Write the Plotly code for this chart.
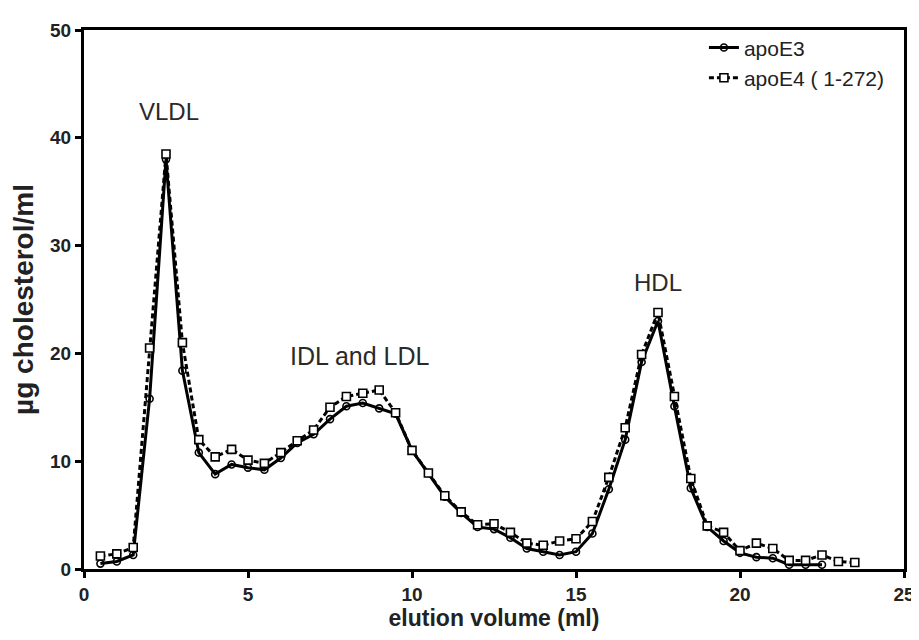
import plotly.graph_objects as go

volume_e4 = [0.5, 1.0, 1.5, 2.0, 2.5, 3.0, 3.5, 4.0, 4.5, 5.0, 5.5, 6.0, 6.5, 7.0, 7.5, 8.0,
             8.5, 9.0, 9.5, 10.0, 10.5, 11.0, 11.5, 12.0, 12.5, 13.0, 13.5, 14.0, 14.5, 15.0,
             15.5, 16.0, 16.5, 17.0, 17.5, 18.0, 18.5, 19.0, 19.5, 20.0, 20.5, 21.0, 21.5,
             22.0, 22.5, 23.0, 23.5]
apoE4 = [1.2, 1.4, 2.0, 20.5, 38.5, 21.0, 12.0, 10.4, 11.1, 10.1, 9.8, 10.8, 11.9, 12.9, 15.0, 16.0,
         16.3, 16.6, 14.5, 11.0, 8.9, 6.8, 5.3, 4.1, 4.2, 3.4, 2.4, 2.2, 2.6, 2.8,
         4.4, 8.5, 13.1, 19.9, 23.8, 16.0, 8.4, 4.0, 3.4, 1.7, 2.4, 1.9, 0.8,
         0.8, 1.3, 0.7, 0.6]

volume_e3 = [0.5, 1.0, 1.5, 2.0, 2.5, 3.0, 3.5, 4.0, 4.5, 5.0, 5.5, 6.0, 6.5, 7.0, 7.5, 8.0,
             8.5, 9.0, 9.5, 10.0, 10.5, 11.0, 11.5, 12.0, 12.5, 13.0, 13.5, 14.0, 14.5, 15.0,
             15.5, 16.0, 16.5, 17.0, 17.5, 18.0, 18.5, 19.0, 19.5, 20.0, 20.5, 21.0, 21.5,
             22.0, 22.5]
apoE3 = [0.5, 0.7, 1.3, 15.8, 38.0, 18.4, 10.8, 8.8, 9.7, 9.4, 9.2, 10.3, 11.7, 12.5, 13.9, 15.1,
         15.4, 14.9, 14.4, 11.0, 8.9, 6.7, 5.2, 3.9, 3.7, 2.9, 1.9, 1.6, 1.3, 1.6,
         3.3, 7.4, 12.0, 19.2, 23.0, 15.1, 7.5, 3.9, 2.6, 1.5, 1.1, 1.0, 0.4,
         0.4, 0.4]

x_ticks = [0, 5, 10, 15, 20, 25]
y_ticks = [0, 10, 20, 30, 40, 50]

peak_labels = ["VLDL", "IDL and LDL", "HDL"]
peak_x = [2.6, 8.4, 17.5]
peak_y = [42.4, 19.8, 26.6]

FONT = "Liberation Sans, Arial, sans-serif"

fig = go.Figure()
fig.add_trace(go.Scatter(
    x=volume_e3, y=apoE3, name="apoE3", mode="lines+markers",
    line=dict(color="black", width=3),
    marker=dict(symbol="circle-open", size=7, color="black", line=dict(width=1.6)),
))
fig.add_trace(go.Scatter(
    x=volume_e4, y=apoE4, name="apoE4 ( 1-272)", mode="lines+markers",
    line=dict(color="black", width=3, dash="5px,3px"),
    marker=dict(symbol="square", size=8, color="white", line=dict(width=1.6, color="black")),
))

for t, xv, yv in zip(peak_labels, peak_x, peak_y):
    fig.add_annotation(x=xv, y=yv, text=t, showarrow=False,
                       font=dict(family=FONT, size=24 if t != "IDL and LDL" else 25,
                                 color="#2a2a2a"))

axis_common = dict(showline=True, linecolor="black", linewidth=3, mirror=True,
                   ticks="outside", ticklen=6, tickwidth=2.5, tickcolor="black",
                   showgrid=False, zeroline=False,
                   tickfont=dict(family=FONT, size=19, color="#222"))

fig.update_xaxes(range=[0, 25], tickvals=x_ticks,
                 ticktext=["<b>%d</b>" % v for v in x_ticks],
                 title=dict(text="<b>elution volume (ml)</b>", standoff=7,
                            font=dict(family=FONT, size=23, color="#222")),
                 **axis_common)
fig.update_yaxes(range=[0, 50], tickvals=y_ticks,
                 ticktext=["<b>%d</b>" % v for v in y_ticks],
                 title=dict(text="<b>µg cholesterol/ml</b>", standoff=10,
                            font=dict(family=FONT, size=28, color="#222")),
                 **axis_common)

fig.update_layout(
    width=919, height=640,
    margin=dict(l=73, r=23, t=12, b=79),
    paper_bgcolor="white", plot_bgcolor="white",
    showlegend=True,
    legend=dict(x=0.756, y=1.005, xanchor="left", yanchor="top",
                bgcolor="rgba(0,0,0,0)", font=dict(family=FONT, size=21, color="#222"),
                tracegroupgap=0, itemwidth=30),
)

fig.write_html("out.html")
